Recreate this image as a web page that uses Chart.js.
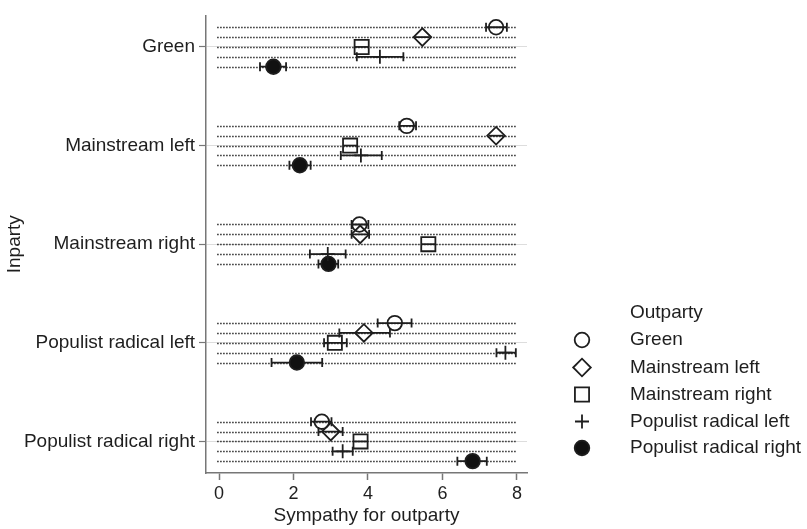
<!DOCTYPE html>
<html>
<head>
<meta charset="utf-8">
<script src="https://cdn.jsdelivr.net/npm/chart.js@4/dist/chart.umd.min.js"></script>
<style>
  html, body { margin: 0; padding: 0; background: #ffffff; }
  #wrap { width: 807px; height: 529px; position: relative; }
</style>
</head>
<body>
<div id="wrap"><canvas id="c"></canvas></div>
<script>
// ---------------- DATA ----------------
const inparties = ['Green', 'Mainstream left', 'Mainstream right', 'Populist radical left', 'Populist radical right'];
const outparties = ['Green', 'Mainstream left', 'Mainstream right', 'Populist radical left', 'Populist radical right'];
const xTickValues = [0, 2, 4, 6, 8];

// mean sympathy for each outparty, one value per inparty group
const greenMean     = [7.44, 5.04, 3.77, 4.72, 2.76];
const mainLeftMean  = [5.46, 7.44, 3.79, 3.89, 3.00];
const mainRightMean = [3.83, 3.52, 5.62, 3.11, 3.80];
const popLeftMean   = [4.32, 3.81, 2.92, 7.69, 3.32];
const popRightMean  = [1.46, 2.17, 2.94, 2.09, 6.81];

// lower / upper confidence bounds
const greenLo     = [7.17, 4.84, 3.56, 4.26, 2.47];
const mainLeftLo  = [5.26, 7.24, 3.56, 3.23, 2.67];
const mainRightLo = [3.64, 3.33, 5.43, 2.82, 3.61];
const popLeftLo   = [3.70, 3.27, 2.44, 7.45, 3.05];
const popRightLo  = [1.10, 1.89, 2.67, 1.41, 6.40];

const greenHi     = [7.73, 5.29, 4.01, 5.17, 3.02];
const mainLeftHi  = [5.66, 7.64, 4.03, 4.59, 3.32];
const mainRightHi = [4.02, 3.71, 5.81, 3.43, 3.99];
const popLeftHi   = [4.95, 4.37, 3.40, 7.97, 3.59];
const popRightHi  = [1.80, 2.46, 3.20, 2.77, 7.19];

const means = [greenMean, mainLeftMean, mainRightMean, popLeftMean, popRightMean];
const lows  = [greenLo, mainLeftLo, mainRightLo, popLeftLo, popRightLo];
const highs = [greenHi, mainLeftHi, mainRightHi, popLeftHi, popRightHi];

// ---------------- STYLE ----------------
const FONT = "'Liberation Sans', Arial, Helvetica, sans-serif";
const INK = '#1e1e1e';
const ROW_STEP = 0.1;
const DOT_START = -0.05, DOT_END = 8.0;
const CAP_MIN_HALF_PX = 7.8; // caps inside the marker outline are not drawn

const styles = [
  { pointStyle: 'circle',  radius: 7.3, fill: 'rgba(0,0,0,0)' },
  { pointStyle: 'rectRot', radius: 8.8, fill: 'rgba(0,0,0,0)' },
  { pointStyle: 'rect',    radius: 10,  fill: 'rgba(0,0,0,0)' },
  { pointStyle: 'cross',   radius: 7,   fill: 'rgba(0,0,0,0)' },
  { pointStyle: 'circle',  radius: 7.3, fill: '#111111' }
];

const rowY = (g, j) => g + (j - 2) * ROW_STEP;

const datasets = outparties.map((name, j) => ({
  label: name,
  data: inparties.map((_, g) => ({ x: means[j][g], y: rowY(g, j) })),
  pointStyle: styles[j].pointStyle,
  pointRadius: styles[j].radius,
  pointHoverRadius: styles[j].radius,
  pointBackgroundColor: styles[j].fill,
  pointBorderColor: INK,
  pointBorderWidth: 1.8,
  showLine: false
}));

const rowsPlugin = {
  id: 'rows',
  beforeDatasetsDraw(chart) {
    const { ctx, scales: { x, y } } = chart;
    ctx.save();
    // dotted row lines
    ctx.strokeStyle = '#2a2a2a';
    ctx.lineWidth = 1.5;
    ctx.setLineDash([1.5, 1.5]);
    inparties.forEach((_, g) => {
      outparties.forEach((_, j) => {
        const py = Math.round(y.getPixelForValue(rowY(g, j))) + 0.5;
        ctx.beginPath();
        ctx.moveTo(x.getPixelForValue(DOT_START), py);
        ctx.lineTo(x.getPixelForValue(DOT_END), py);
        ctx.stroke();
      });
    });
    ctx.setLineDash([]);
    // error bars
    ctx.strokeStyle = INK;
    ctx.lineWidth = 1.8;
    inparties.forEach((_, g) => {
      outparties.forEach((_, j) => {
        const py = y.getPixelForValue(rowY(g, j));
        const x0 = x.getPixelForValue(lows[j][g]);
        const x1 = x.getPixelForValue(highs[j][g]);
        ctx.beginPath();
        ctx.moveTo(x0, py); ctx.lineTo(x1, py);
        if ((x1 - x0) / 2 > CAP_MIN_HALF_PX) {
          ctx.moveTo(x0, py - 4.5); ctx.lineTo(x0, py + 4.5);
          ctx.moveTo(x1, py - 4.5); ctx.lineTo(x1, py + 4.5);
        }
        ctx.stroke();
      });
    });
    ctx.restore();
  }
};

const legendPlugin = {
  id: 'customLegend',
  afterDraw(chart) {
    const { ctx } = chart;
    ctx.save();
    ctx.font = '19px ' + FONT;
    ctx.fillStyle = INK;
    ctx.textAlign = 'left';
    ctx.textBaseline = 'middle';
    const textX = 630, markX = 582;
    ctx.fillText('Outparty', textX, 313);
    const ys = [340, 367.5, 394.5, 421.5, 448];
    outparties.forEach((name, j) => {
      ctx.fillStyle = INK;
      ctx.fillText(name, textX, ys[j]);
      ctx.strokeStyle = INK;
      ctx.fillStyle = styles[j].fill;
      ctx.lineWidth = 1.8;
      Chart.helpers.drawPoint(ctx, {
        pointStyle: styles[j].pointStyle,
        radius: styles[j].radius,
        borderWidth: 1.8,
        rotation: 0
      }, markX, ys[j]);
    });
    ctx.restore();
  }
};

new Chart(document.getElementById('c'), {
  type: 'scatter',
  data: { datasets },
  plugins: [rowsPlugin, legendPlugin],
  options: {
    responsive: true,
    maintainAspectRatio: false,
    animation: false,
    layout: { padding: { top: 8, right: 280, left: 0, bottom: 0 } },
    plugins: { legend: { display: false }, tooltip: { enabled: false } },
    scales: {
      x: {
        type: 'linear',
        min: -0.35,
        max: 8.27,
        afterBuildTicks: s => { s.ticks = xTickValues.map(v => ({ value: v })); },
        afterFit: s => { s.height = 56; },
        grid: { drawOnChartArea: false, drawTicks: true, tickLength: 7, tickColor: '#777', tickWidth: 1.5 },
        border: { color: '#777', width: 1.5 },
        ticks: { font: { family: FONT, size: 18 }, color: INK, padding: 3, maxRotation: 0 },
        title: { display: true, text: 'Sympathy for outparty', font: { family: FONT, size: 19 }, color: INK, padding: { top: 0, bottom: 2 } }
      },
      y: {
        type: 'linear',
        reverse: true,
        min: -0.32,
        max: 4.32,
        afterBuildTicks: s => { s.ticks = inparties.map((_, g) => ({ value: g })); },
        afterFit: s => { s.width = 206; },
        grid: { color: '#dddddd', lineWidth: 1, drawTicks: true, tickLength: 7, tickColor: '#777', tickWidth: 1.2 },
        border: { color: '#777', width: 1.5 },
        ticks: { font: { family: FONT, size: 19 }, color: INK, padding: 4, callback: v => inparties[v] },
        title: { display: true, text: 'Inparty', font: { family: FONT, size: 19 }, color: INK, padding: { top: 3, bottom: 0 } }
      }
    }
  }
});
</script>
</body>
</html>
